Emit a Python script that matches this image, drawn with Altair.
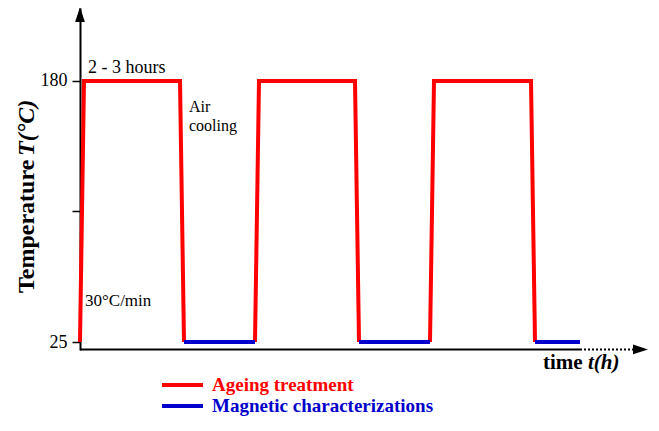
import altair as alt
import pandas as pd

# ---- data (time in arbitrary hour units, temperature in °C) ----
red_t   = [0.0, 0.4, 10.0, 10.4,   17.5, 17.9, 27.5, 27.9,   35.0, 35.4, 45.1, 45.5]
red_T   = [25, 180, 180, 25,       25, 180, 180, 25,         25, 180, 180, 25]
red_seg = [1, 1, 1, 1,             2, 2, 2, 2,               3, 3, 3, 3]

blue_t   = [10.4, 17.5,   27.9, 35.0,   45.5, 50.0]
blue_T   = [25, 25,       25, 25,       25, 25]
blue_seg = [1, 1,         2, 2,         3, 3]

y_ticks = [25, 102.5, 180]

RED = "#ff0000"
BLUE = "#0000cc"
FONT = "Liberation Serif"

red_df = pd.DataFrame({"t": red_t, "T": red_T, "seg": red_seg, "i": range(len(red_t))})
blue_df = pd.DataFrame({"t": blue_t, "T": blue_T, "seg": blue_seg, "i": range(len(blue_t))})

xs = alt.Scale(domain=[0, 56.9], nice=False, zero=False)
ys = alt.Scale(domain=[20.25, 223.35], nice=False, zero=False)

label_expr = "datum.value == 102.5 ? '' : datum.label"
yaxis = alt.Axis(values=y_ticks, labelExpr=label_expr, title=None, grid=False,
                 domainColor="black", domainWidth=2, tickColor="black", tickWidth=1.5,
                 tickSize=8, labelPadding=5, labelFont=FONT, labelFontSize=18,
                 labelColor="black")

X = lambda: alt.X("t:Q", scale=xs, axis=None)
Y = lambda: alt.Y("T:Q", scale=ys, axis=yaxis)

red = alt.Chart(red_df).mark_line(color=RED, strokeWidth=4, strokeJoin="miter").encode(
    x=X(), y=Y(), detail="seg:N", order="i:Q")

blue = alt.Chart(blue_df).mark_line(color=BLUE, strokeWidth=4, strokeJoin="miter").encode(
    x=X(), y=Y(), detail="seg:N", order="i:Q")


def seg(t1, t2, T1, T2, color="black", width=2, dash=None):
    df = pd.DataFrame({"t": [t1], "t2": [t2], "T": [T1], "T2": [T2]})
    kw = dict(color=color, strokeWidth=width)
    if dash:
        kw["strokeDash"] = dash
    return alt.Chart(df).mark_rule(**kw).encode(x=X(), x2="t2:Q", y=Y(), y2="T2:Q")


def ann(text, t, T, size=16, weight="normal", style="normal", color="black",
        angle=0, align="left"):
    df = pd.DataFrame({"t": [t], "T": [T], "label": [text]})
    return alt.Chart(df).mark_text(font=FONT, fontSize=size, fontWeight=weight,
                                   fontStyle=style, color=color, angle=angle,
                                   align=align, baseline="alphabetic").encode(
        x=X(), y=Y(), text="label:N")


def arrow(t, T, shape, size=225):
    df = pd.DataFrame({"t": [t], "T": [T]})
    return alt.Chart(df).mark_point(shape=shape, size=size, filled=True,
                                    color="black", opacity=1).encode(x=X(), y=Y())


layers = [
    red, blue,
    seg(0, 50, 20.6, 20.6),
    seg(50, 55.3, 20.6, 20.6, dash=[2, 2]),
    arrow(56.05, 20.6, "M1,0L-1,-0.65L-1,0.65Z"),
    arrow(0, 219.5, "M0,-1L-0.65,1L0.65,1Z"),
    ann("2 - 3 hours", 0.8, 184.7, size=18),
    ann("Air", 10.9, 161.6, size=16),
    ann("cooling", 10.9, 150.3, size=16),
    ann("30°C/min", 0.5, 46.4, size=17),
    ann("time", 46.3, 9.0, size=21, weight="bold"),
    ann("t(h)", 50.8, 9.0, size=21, weight="bold", style="italic"),
    ann("Temperature", -4.6, 54.1, size=24, weight="bold", angle=270),
    ann("T(°C)", -4.6, 135.5, size=24, weight="bold", style="italic", angle=270),
    seg(8.2, 12.3, -0.5, -0.5, color=RED, width=4),
    seg(8.2, 12.3, -13.0, -13.0, color=BLUE, width=4),
    ann("Ageing treatment", 13.2, -4.1, size=19, weight="bold", color=RED),
    ann("Magnetic characterizations", 13.2, -16.6, size=19, weight="bold", color=BLUE),
]

chart = alt.layer(*layers).properties(
    width=569, height=342,
    autosize=alt.AutoSizeParams(type="none"),
    padding={"left": 72, "top": 0, "right": 2, "bottom": 68},
    background="white",
).configure_view(stroke="transparent", strokeWidth=0)

chart.save("out.html", embed_options={"renderer": "svg", "actions": False})
